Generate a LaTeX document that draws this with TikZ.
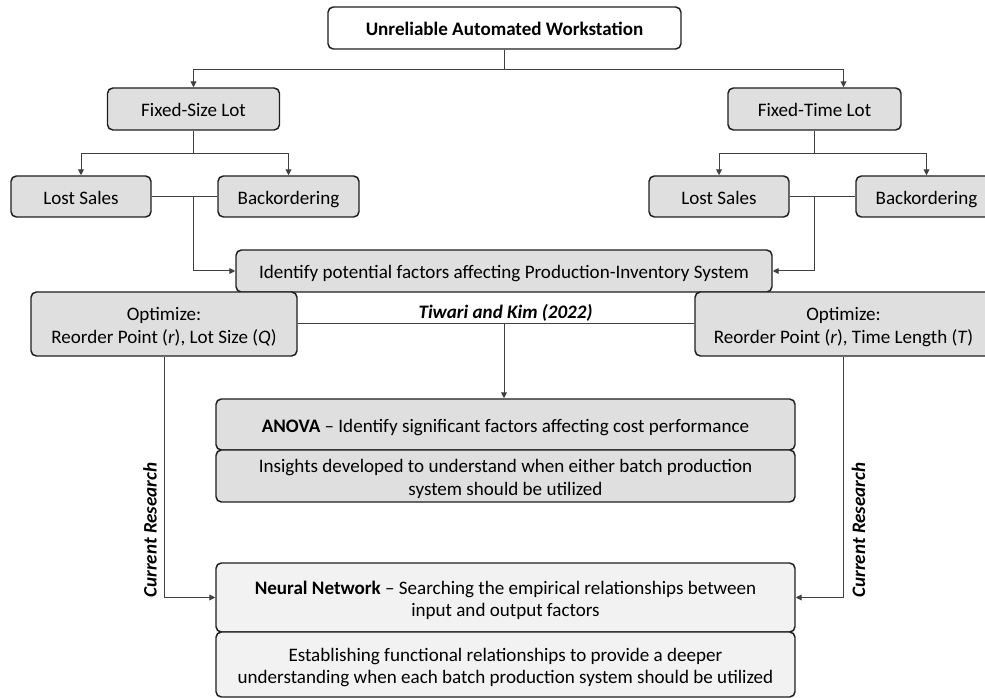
\documentclass[tikz,border=0pt]{standalone}
\usepackage{fontspec}
\setmainfont{Carlito}
\usetikzlibrary{arrows.meta,calc}
\definecolor{boxgray}{RGB}{224,223,224}
\definecolor{boxlight}{RGB}{242,242,242}
\definecolor{edge}{RGB}{30,30,30}
\definecolor{wire}{RGB}{64,64,64}
% fixed line extents so every box sets its text at the same height
\newcommand\padtop{\rule{0pt}{15.5pt}}
\newcommand\padbot{\rule[-3.6pt]{0pt}{0pt}}
\begin{document}
\begin{tikzpicture}[x=0.75pt,y=-0.75pt,
  base/.style={draw=edge,line width=1.1pt,rounded corners=4pt,inner sep=0pt,
    align=center,font=\fontsize{14.3}{17}\selectfont},
  graybox/.style={base,fill=boxgray},
  lightbox/.style={base,fill=boxlight},
  whitebox/.style={base,fill=white},
  sz/.style 2 args={minimum width=#1*0.75pt,minimum height=#2*0.75pt},
  conn/.style={draw=wire,line width=0.75pt},
  arr/.style={conn,-{Triangle[length=4.5pt,width=4.4pt]}},
  tag/.style={font=\fontsize{14.3}{17}\selectfont\bfseries\itshape}]
\useasboundingbox (0,0) rectangle (985,698);
\clip (0,0) rectangle (985,698);

% boxes: centre position, then width and height
\node[whitebox,sz={353}{42}] (top) at (504.5,28) {\padtop\textbf{Unreliable Automated Workstation}\padbot};
\node[graybox,sz={172}{42}] (fsl) at (193.5,109) {\padtop Fixed-Size Lot\padbot};
\node[graybox,sz={173}{42}] (ftl) at (814.5,109) {\padtop Fixed-Time Lot\padbot};
\node[graybox,sz={140}{41}] (lsl) at (81,196.5) {\padtop Lost Sales\padbot};
\node[graybox,sz={141}{41}] (bol) at (288.5,196.5) {\padtop Backordering\padbot};
\node[graybox,sz={140}{41}] (lsr) at (719,196.5) {\padtop Lost Sales\padbot};
\node[graybox,sz={141}{41}] (bor) at (926.5,196.5) {\padtop Backordering\padbot};
\node[graybox,sz={536}{42}] (ident) at (504,271) {\padtop Identify potential factors affecting Production-Inventory System\padbot};
\node[graybox,sz={266}{64}] (optl) at (164,324) {\padtop Optimize:\\Reorder Point (\textit{r}), Lot Size (\textit{Q})\padbot};
\node[graybox,sz={297}{64}] (optr) at (843.5,324) {\padtop Optimize:\\Reorder Point (\textit{r}), Time Length (\textit{T})\padbot};
\node[graybox,sz={579}{51}] (anova) at (505.5,424.5) {\padtop\textbf{ANOVA} -- Identify significant factors affecting cost performance\padbot};
\node[graybox,sz={579}{52}] (ins) at (505.5,476) {\padtop Insights developed to understand when either batch production\\system should be utilized\padbot};
\node[lightbox,sz={579}{69}] (nn) at (505.5,597.5) {\padtop\textbf{Neural Network} -- Searching the empirical relationships between\\input and output factors\padbot};
\node[lightbox,sz={579}{65}] (est) at (505.5,664.5) {\padtop Establishing functional relationships to provide a deeper\\understanding when each batch production system should be utilized\padbot};

% top split
\coordinate (split) at ($(top.south)+(0,20)$);
\draw[conn] (top.south) -- (split);
\draw[arr] (split) -| (fsl.north);
\draw[arr] (split) -| ($(ftl.north)+(29,0)$);

% lot types to policies
\coordinate (lsplit) at ($(fsl.south)+(0,23)$);
\coordinate (rsplit) at ($(ftl.south)+(0,23)$);
\draw[conn] (fsl.south) -- (lsplit);
\draw[conn] (ftl.south) -- (rsplit);
\draw[arr] (lsplit) -| (lsl.north);
\draw[arr] (lsplit) -| (bol.north);
\draw[arr] (rsplit) -| (lsr.north);
\draw[arr] (rsplit) -| (bor.north);

% policies merge into factor identification
\draw[conn] (lsl.east) -- (bol.west);
\draw[conn] (lsr.east) -- (bor.west);
\draw[arr] (fsl.south |- lsl.east) |- (ident.west);
\draw[arr] (ftl.south |- lsr.east) |- (ident.east);

% optimisation link and prior study
\draw[conn] (optl.east) -- (optr.west);
\coordinate (mid) at (ident.south |- optl.east);
\node[tag,anchor=south,inner sep=1.5pt] (tk) at ($(mid)+(1.5,0)$) {Tiwari and Kim (2022)};
\draw[arr] (mid) -- (mid |- anova.north);

% current research paths
\draw[arr] (optl.south) |- (nn.west);
\draw[arr] (optr.south) |- (nn.east);
\node[tag,rotate=90] (crl) at (150,530) {Current Research};
\node[tag,rotate=90] (crr) at (858.5,530) {Current Research};
\end{tikzpicture}
\end{document}
